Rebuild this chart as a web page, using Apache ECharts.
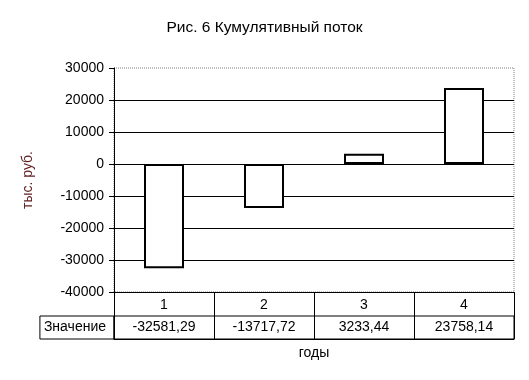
<!DOCTYPE html>
<html>
<head>
<meta charset="utf-8">
<script src="https://cdn.jsdelivr.net/npm/echarts@6/dist/echarts.min.js"></script>
<style>html,body{margin:0;padding:0;background:#fff}#c{width:529px;height:380px}</style>
</head>
<body>
<div id="c"></div>
<script>
var categories = ['1', '2', '3', '4'];
var values = [-32581.29, -13717.72, 3233.44, 23758.14];
var rowLabel = ['Значение'];
var yMin = -40000, yMax = 30000, yStep = 10000;

var FONT = 'Liberation Sans, Arial, sans-serif';
function fmt(v) { return v.toFixed(2).replace('.', ','); }

var chart = echarts.init(document.getElementById('c'), null, {renderer: 'canvas'});
chart.setOption({
  animation: false,
  backgroundColor: '#fff',
  title: {
    text: 'Рис. 6 Кумулятивный поток',
    left: 'center', top: 15,
    textStyle: {fontFamily: FONT, fontSize: 15.5, fontWeight: 'normal', color: '#000'}
  },
  grid: [
    {left: 114, top: 68, width: 400, height: 224, show: true, borderColor: '#808080', borderType: 'dotted', borderWidth: 1, backgroundColor: 'transparent'},
    {left: 114, top: 316, width: 400, height: 23, show: true, borderColor: '#000', borderWidth: 1, backgroundColor: 'transparent'}
  ],
  xAxis: [
    {
      type: 'category', gridIndex: 0, data: categories,
      axisLine: {show: true, onZero: false, lineStyle: {color: '#000', width: 1}},
      axisTick: {show: true, alignWithLabel: false, length: 47, lineStyle: {color: '#000'}},
      axisLabel: {margin: 6, fontFamily: FONT, fontSize: 14, color: '#000'},
      name: 'годы', nameLocation: 'middle', nameGap: 54,
      nameTextStyle: {fontFamily: FONT, fontSize: 14, color: '#000'}
    },
    {
      type: 'category', gridIndex: 1, data: values.map(fmt), position: 'bottom',
      axisLine: {show: true, lineStyle: {color: '#000'}},
      axisTick: {show: false},
      splitLine: {show: false},
      axisLabel: {inside: true, margin: 5, fontFamily: FONT, fontSize: 14, color: '#000'}
    }
  ],
  yAxis: [
    {
      type: 'value', gridIndex: 0, min: yMin, max: yMax, interval: yStep,
      axisLine: {show: true, lineStyle: {color: '#000'}},
      axisTick: {show: true, length: 5, lineStyle: {color: '#000'}},
      axisLabel: {margin: 10, fontFamily: FONT, fontSize: 14, color: '#000', formatter: function (v) { return String(v); }},
      splitLine: {show: true, showMinLine: false, showMaxLine: false, lineStyle: {color: '#000', width: 1}},
      name: 'тыс. руб.', nameLocation: 'middle', nameGap: 79, nameRotate: 90,
      nameTextStyle: {fontFamily: FONT, fontSize: 14, color: '#602020'}
    },
    {
      type: 'category', gridIndex: 1, data: rowLabel,
      axisLine: {show: false}, axisTick: {show: false},
      axisLabel: {
        margin: 0, fontFamily: FONT, fontSize: 14, color: '#000',
        align: 'right', height: 23, lineHeight: 23, padding: [0, 8, 0, 4],
        borderColor: '#000', borderWidth: 1
      }
    }
  ],
  series: [{
    type: 'bar', xAxisIndex: 0, yAxisIndex: 0, data: values, barWidth: '40%',
    itemStyle: {color: '#fff', borderColor: '#000', borderWidth: 2}
  }]
});
</script>
</body>
</html>
